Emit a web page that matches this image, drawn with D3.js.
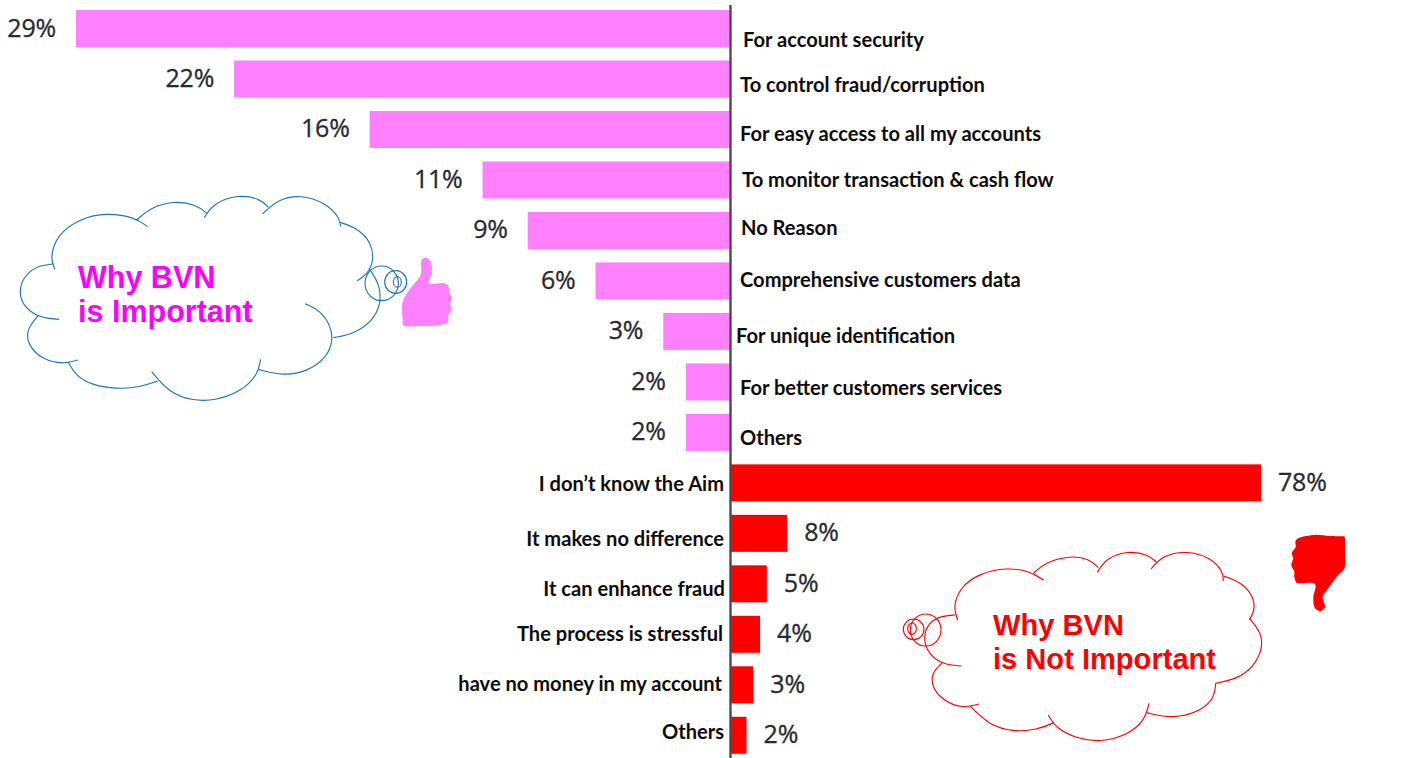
<!DOCTYPE html>
<html>
<head>
<meta charset="utf-8">
<script src="https://cdn.jsdelivr.net/npm/d3@7/dist/d3.min.js"></script>
<style>
  html, body { margin: 0; padding: 0; background: #fff; }
  svg { display: block; }
  .reason { font-family: Lato, "Open Sans", sans-serif; font-weight: 700; font-size: 20.1px; fill: #0c0c0c; }
  .pct { font-family: "Open Sans", sans-serif; font-size: 25px; letter-spacing: -0.2px; fill: #262a30; stroke: #262a30; stroke-width: 0.3px; }
  .cloud-title { font-family: "Liberation Sans", Arial, sans-serif; font-weight: 700; }
</style>
</head>
<body>
<svg id="chart" width="1410" height="758"></svg>
<script>
// Survey answers, top to bottom
const importantReasons = ["For account security", "To control fraud/corruption", "For easy access to all my accounts",
  "To monitor transaction & cash flow", "No Reason", "Comprehensive customers data", "For unique identification",
  "For better customers services", "Others"];
const importantValues = [29, 22, 16, 11, 9, 6, 3, 2, 2];
const notImportantReasons = ["I don’t know the Aim", "It makes no difference", "It can enhance fraud",
  "The process is stressful", "have no money in my account", "Others"];
const notImportantValues = [78, 8, 5, 4, 3, 2];

// Hand placement of the reason captions around the centre line: [x offset from the line, y offset from bar centre]
const importantCaptionNudge = [[12, 11], [9, 6], [9, 4], [11, 0], [10, -2], [9, -1], [5, 5], [9, 6], [9, 6]];
const notImportantCaptionNudge = [[-7, 1], [-7, 6], [-6, 5], [-8, 0], [-9, -1], [-7, -3]];

// Cloud outlines: each lobe is an open stroke, as [x, y] pairs in the cloud's own drawing space
const blueCloudLobes = [
  [[165,268],[150,235],[170,165],[240,115],[320,98],[405,112],[443,140]],
  [[410,120],[450,84],[520,62],[590,74],[620,100]],
  [[613,113],[640,70],[715,43],[780,56],[805,82]],
  [[788,102],[830,60],[900,43],[980,70],[1018,112],[1022,140]],
  [[1020,127],[1075,146],[1114,188],[1122,240],[1103,282],[1072,302]],
  [[1107,265],[1138,310],[1144,370],[1118,423],[1062,462],[1000,473]],
  [[915,371],[962,392],[993,438],[999,490],[974,538],[922,574],[850,588],[775,568]],
  [[782,538],[772,588],[722,634],[650,661],[578,663],[507,638],[455,575]],
  [[473,603],[420,622],[350,627],[278,616],[227,588],[204,545]],
  [[233,540],[190,553],[127,539],[85,497],[78,450],[115,406]],
  [[177,418],[127,415],[76,388],[53,335],[76,282],[118,256],[160,252]]
];
const blueCloudBubbles = [[1145,310,50,52],[1187,306,33,34],[1192,306,12,16]];
const redCloudLobes = [
  [[233,300],[219,260],[241,201],[298,160],[380,142],[453,154],[491,181]],
  [[460,160],[498,126],[570,107],[628,116],[655,143]],
  [[652,157],[678,114],[745,92],[803,103],[830,127]],
  [[813,147],[848,106],[920,92],[989,111],[1029,153],[1030,183]],
  [[1030,168],[1084,187],[1120,228],[1125,270],[1108,300]],
  [[1110,297],[1144,338],[1148,387],[1119,443],[1072,476],[1007,490]],
  [[1007,490],[1004,533],[962,574],[880,597],[800,578]],
  [[807,550],[793,604],[742,645],[660,667],[588,655],[527,624],[505,585]],
  [[522,608],[470,630],[400,635],[328,616],[270,558]],
  [[297,552],[250,565],[192,544],[155,502],[155,458],[187,428]],
  [[245,438],[188,433],[146,403],[128,355],[146,307],[183,288],[225,285]]
];
const redCloudBubbles = [[137,330,46,48],[101,328,31,31],[96,326,13,17]];

// Thumb silhouettes
const thumbUpOutline = [[1208,365],[1235,320],[1262,285],[1265,240],[1278,233],[1293,245],[1295,280],[1287,310],[1335,310],
  [1348,325],[1348,340],[1356,352],[1350,372],[1355,390],[1345,405],[1345,425],[1320,435],[1260,438],[1214,438],[1208,432],[1208,420]];
const thumbDownOutline = [[1248,60],[1300,45],[1350,48],[1388,49],[1394,50],[1395,58],[1395,100],[1395,140],[1390,150],[1370,170],[1345,205],[1328,230],[1335,260],[1322,273],
  [1305,265],[1300,235],[1305,192],[1262,190],[1250,188],[1243,170],[1243,155],[1234,135],[1240,115],[1235,100],[1247,82]];

const PINK = "#ff80ff", RED = "#ff0000", MAGENTA = "#ff00ff", CLOUD_BLUE = "#1b75bb";
const LINE_X = 731;

const svg = d3.select("#chart");

const rows = importantReasons.map((r, i) => `a${i}`).concat(notImportantReasons.map((r, i) => `b${i}`));
const y = d3.scaleBand().domain(rows).range([3.3, 760.5]).paddingInner(0.267).paddingOuter(0.133);

// The two groups run on separate horizontal scales
const xLeft = d3.scaleLinear().domain([0, 29]).range([LINE_X, 76]);
const xRight = d3.scaleLinear().domain([0, 78]).range([LINE_X + 2, 1261]);

svg.append("g").selectAll("rect").data(importantValues).join("rect")
  .attr("x", d => xLeft(d)).attr("y", (d, i) => y(`a${i}`))
  .attr("width", d => LINE_X - xLeft(d)).attr("height", y.bandwidth()).attr("fill", PINK);

svg.append("g").selectAll("rect").data(notImportantValues).join("rect")
  .attr("x", LINE_X).attr("y", (d, i) => y(`b${i}`))
  .attr("width", d => xRight(d) - LINE_X).attr("height", y.bandwidth()).attr("fill", RED);

svg.append("line").attr("x1", LINE_X - 0.5).attr("x2", LINE_X - 0.5).attr("y1", 5).attr("y2", 758)
  .attr("stroke", "#4a4a4a").attr("stroke-width", 2.4);

// Percent labels
svg.append("g").selectAll("text").data(importantValues).join("text").attr("class", "pct")
  .attr("x", d => xLeft(d) - 20).attr("y", (d, i) => y(`a${i}`) + y.bandwidth() / 2 - 1)
  .attr("dy", "0.36em").attr("text-anchor", "end").text(d => `${d}%`);

svg.append("g").selectAll("text").data(notImportantValues).join("text").attr("class", "pct")
  .attr("x", d => xRight(d) + 17).attr("y", (d, i) => y(`b${i}`) + y.bandwidth() / 2 - 1)
  .attr("dy", "0.36em").text(d => `${d}%`);

// Reason captions
svg.append("g").selectAll("text").data(importantReasons).join("text").attr("class", "reason")
  .attr("x", (d, i) => LINE_X + importantCaptionNudge[i][0])
  .attr("y", (d, i) => y(`a${i}`) + y.bandwidth() / 2 + importantCaptionNudge[i][1])
  .attr("dy", "0.35em").text(d => d);

svg.append("g").selectAll("text").data(notImportantReasons).join("text").attr("class", "reason")
  .attr("x", (d, i) => LINE_X + notImportantCaptionNudge[i][0])
  .attr("y", (d, i) => y(`b${i}`) + y.bandwidth() / 2 + notImportantCaptionNudge[i][1])
  .attr("dy", "0.35em").attr("text-anchor", "end").text(d => d);

// Thought clouds and thumbs
const lobeLine = d3.line().curve(d3.curveBasis);
const thumbLine = d3.line().curve(d3.curveCatmullRomClosed.alpha(0.5));

function drawCloud(lobes, bubbles, colour, ox, oy) {
  const g = svg.append("g")
    .attr("transform", `translate(${ox},${oy}) scale(${1 / 3})`)
    .attr("fill", "none").attr("stroke", colour).attr("stroke-width", 3.4);
  g.selectAll("path").data(lobes).join("path").attr("d", lobeLine);
  g.selectAll("ellipse").data(bubbles).join("ellipse")
    .attr("cx", d => d[0]).attr("cy", d => d[1]).attr("rx", d => d[2]).attr("ry", d => d[3]);
}

drawCloud(blueCloudLobes, blueCloudBubbles, CLOUD_BLUE, 0, 180);
drawCloud(redCloudLobes, redCloudBubbles, RED, 880, 520);

svg.append("path").attr("transform", "translate(0,180) scale(0.3333)")
  .attr("d", thumbLine(thumbUpOutline)).attr("fill", PINK);
svg.append("path").attr("transform", "translate(880,520) scale(0.3333)")
  .attr("d", thumbLine(thumbDownOutline)).attr("fill", RED);

// Cloud titles
const titles = [
  { lines: ["Why BVN", "is Important"], x: 78, y: 288, fill: MAGENTA, size: 30.5 },
  { lines: ["Why BVN", "is Not Important"], x: 993, y: 635, fill: RED, size: 29.1 }
];
titles.forEach(t => {
  const label = svg.append("text").attr("class", "cloud-title").attr("fill", t.fill).attr("font-size", t.size);
  t.lines.forEach((line, i) => label.append("tspan").attr("x", t.x).attr("y", t.y + i * 34).text(line));
});
</script>
</body>
</html>
